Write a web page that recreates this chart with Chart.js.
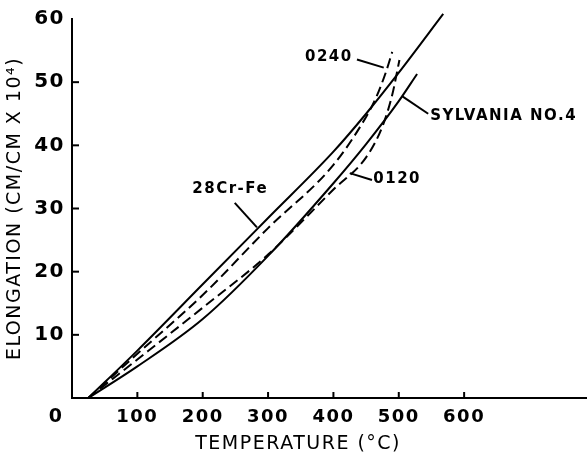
<!DOCTYPE html>
<html>
<head>
<meta charset="utf-8">
<script src="https://cdn.jsdelivr.net/npm/chart.js@4/dist/chart.umd.min.js"></script>
<style>
  html, body { margin: 0; padding: 0; background: #fff; }
</style>
</head>
<body>
<canvas id="chart" width="587" height="457"></canvas>
<script>
// Elongation (cm/cm x 10^4) against temperature (deg C)
const crFeTemp = [25, 100, 200, 300, 400, 450, 500, 568];
const crFeElong = [0, 7.5, 18, 28.5, 39, 45, 51.5, 60.8];

const glass0240Temp = [25, 100, 200, 300, 400, 450, 465, 480, 490];
const glass0240Elong = [0, 7.0, 16.3, 26.9, 36.9, 44.5, 47.5, 51.5, 54.8];

const glass0120Temp = [25, 100, 200, 300, 400, 450, 475, 490, 501];
const glass0120Elong = [0, 6.1, 14.3, 22.7, 33, 38.1, 43, 48, 53.5];

const sylvaniaTemp = [25, 100, 200, 300, 400, 450, 500, 528];
const sylvaniaElong = [0, 5.0, 12.5, 22.5, 34, 40.2, 47, 51.3];

const xTickValues = [100, 200, 300, 400, 500, 600];
const yTickValues = [10, 20, 30, 40, 50];

const toPoints = (xs, ys) => xs.map((t, i) => ({ x: t, y: ys[i] }));

const family = "DejaVu Sans";

// Curve labels with their leader lines (data coordinates)
const notes = [
  { text: "0240", at: [393, 54.0], align: "center", from: [436, 53.6], to: [477, 52.3] },
  { text: "SYLVANIA NO.4", at: [548, 44.6], align: "left", from: [545, 45.0], to: [505, 47.8] },
  { text: "0120", at: [461, 34.6], align: "left", from: [459, 34.5], to: [425, 35.6] },
  { text: "28Cr-Fe", at: [242, 33.0], align: "center", from: [249, 30.9], to: [283, 27] },
];

// lettering on the original is wide, so space the glyphs out a little
const spacing = {
  id: "spacing",
  beforeDraw(chart) {
    chart.ctx.letterSpacing = "1.5px";
  },
};

const extras = {
  id: "extras",
  afterDatasetsDraw(chart) {
    const { ctx, scales: { x, y } } = chart;
    ctx.save();
    ctx.strokeStyle = "#000";
    ctx.fillStyle = "#000";
    ctx.lineWidth = 2;

    // tick marks point into the plot
    xTickValues.forEach((v) => {
      const px = x.getPixelForValue(v);
      ctx.beginPath();
      ctx.moveTo(px, y.bottom);
      ctx.lineTo(px, y.bottom - 6);
      ctx.stroke();
    });
    yTickValues.forEach((v) => {
      const py = y.getPixelForValue(v);
      ctx.beginPath();
      ctx.moveTo(x.left, py);
      ctx.lineTo(x.left + 7, py);
      ctx.stroke();
    });

    // origin label
    ctx.font = `bold 19px ${family}`;
    ctx.textAlign = "center";
    ctx.textBaseline = "middle";
    ctx.fillText("0", x.left - 16, y.bottom + 19);

    // x axis title sits left of the plot centre on the original
    ctx.font = `19px ${family}`;
    ctx.fillText("TEMPERATURE (°C)", x.getPixelForValue(346), y.bottom + 46);

    // curve labels
    ctx.font = `bold 15px ${family}`;
    notes.forEach((n) => {
      ctx.beginPath();
      ctx.moveTo(x.getPixelForValue(n.from[0]), y.getPixelForValue(n.from[1]));
      ctx.lineTo(x.getPixelForValue(n.to[0]), y.getPixelForValue(n.to[1]));
      ctx.stroke();
      ctx.textAlign = n.align;
      ctx.fillText(n.text, x.getPixelForValue(n.at[0]), y.getPixelForValue(n.at[1]));
    });
    ctx.restore();
  },
};

const lineStyle = {
  showLine: true,
  borderColor: "#000",
  borderWidth: 2,
  pointRadius: 0,
  cubicInterpolationMode: "monotone",
  fill: false,
};

new Chart(document.getElementById("chart"), {
  type: "scatter",
  data: {
    datasets: [
      { ...lineStyle, label: "28Cr-Fe", data: toPoints(crFeTemp, crFeElong), clip: false },
      { ...lineStyle, label: "0240", data: toPoints(glass0240Temp, glass0240Elong), borderDash: [10, 5] },
      { ...lineStyle, label: "0120", data: toPoints(glass0120Temp, glass0120Elong), borderDash: [10, 5] },
      { ...lineStyle, label: "Sylvania No. 4", data: toPoints(sylvaniaTemp, sylvaniaElong) },
    ],
  },
  options: {
    responsive: false,
    animation: false,
    layout: { padding: { top: 14, right: 0, bottom: 0, left: 0 } },
    plugins: { legend: { display: false }, tooltip: { enabled: false } },
    scales: {
      x: {
        type: "linear",
        min: 0,
        max: 788,
        afterFit: (s) => { s.height = 59; },
        border: { display: true, color: "#000", width: 2 },
        grid: { display: true, drawOnChartArea: false, drawTicks: false },
        ticks: {
          stepSize: 100,
          includeBounds: false,
          autoSkip: false,
          maxRotation: 0,
          padding: 9,
          color: "#000",
          font: { family: family, size: 18, weight: "bold" },
          callback: (v) => (v > 0 && v <= 600 ? v : ""),
        },
        title: { display: false },
      },
      y: {
        min: 0,
        max: 60,
        afterFit: (s) => { s.width = 72; },
        border: { display: true, color: "#000", width: 2 },
        grid: { display: true, drawOnChartArea: false, drawTicks: false },
        ticks: {
          stepSize: 10,
          padding: 7,
          color: "#000",
          font: { family: family, size: 20, weight: "bold" },
          callback: (v) => (v > 0 ? v : ""),
        },
        title: {
          display: true,
          text: "ELONGATION (CM/CM X 10⁴)",
          color: "#000",
          font: { family: family, size: 19 },
          padding: { top: 4, bottom: 0 },
        },
      },
    },
  },
  plugins: [spacing, extras],
});
</script>
</body>
</html>
